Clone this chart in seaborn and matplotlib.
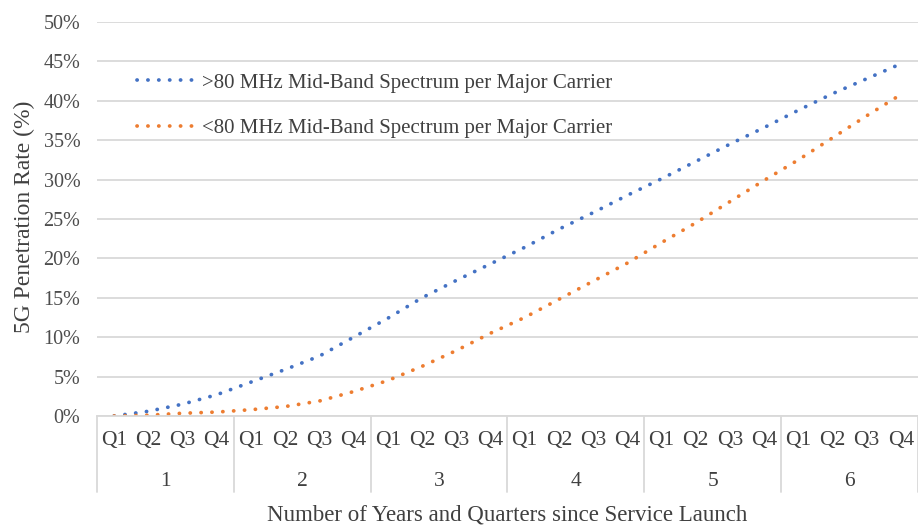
import matplotlib
matplotlib.use("Agg")
import matplotlib.pyplot as plt
import matplotlib.transforms as mtransforms
import seaborn as sns
import pandas as pd

# Quarterly 5G penetration (%) over six years since launch
years = ["1", "2", "3", "4", "5", "6"]
quarters = ["Q1", "Q2", "Q3", "Q4"]
above_80 = [0.0, 0.6, 1.5, 2.7, 4.3, 5.9, 7.6, 10.0, 12.4, 15.0, 17.2, 19.3,
            21.4, 23.7, 25.8, 28.0, 30.1, 32.3, 34.5, 36.6, 38.8, 40.9, 42.8, 44.7]
below_80 = [0.0, 0.1, 0.35, 0.5, 0.8, 1.2, 1.9, 3.1, 4.5, 6.3, 8.3, 10.5,
            12.5, 14.8, 17.1, 19.4, 22.0, 24.5, 27.2, 29.9, 32.5, 35.3, 38.1, 40.8]
series_names = [">80 MHz Mid-Band Spectrum per Major Carrier",
                "<80 MHz Mid-Band Spectrum per Major Carrier"]
y_ticks = [0, 5, 10, 15, 20, 25, 30, 35, 40, 45, 50]

n = len(years) * len(quarters)
df = pd.concat([
    pd.DataFrame({"idx": range(n), "rate": above_80, "series": series_names[0]}),
    pd.DataFrame({"idx": range(n), "rate": below_80, "series": series_names[1]}),
])

sns.set_theme(style="white")
plt.rcParams["font.family"] = ["Liberation Serif", "DejaVu Serif"]
text_color = "#404040"
tick_color = "#4d4d4d"
grid_color = "#D9D9D9"

fig = plt.figure(figsize=(9.18, 5.25), dpi=100)
ax = fig.add_axes([97 / 918, 1 - 416 / 525, 1 - 97 / 918, (416 - 22) / 525])

palette = {series_names[0]: "#4472C4", series_names[1]: "#ED7D31"}
sns.lineplot(data=df, x="idx", y="rate", hue="series", palette=palette,
             style="series", dashes={s: (0.05, 2.85) for s in series_names},
             linewidth=2.7, dash_capstyle="round", ax=ax, legend=False)

ax.set_xlim(-0.5, n - 0.5)
ax.set_ylim(0, 50)
ax.set_yticks(y_ticks)
ax.set_yticklabels([f"{v}%" for v in y_ticks], fontsize=14.5, color=tick_color)
ax.yaxis.grid(True, color=grid_color, linewidth=1.3)
ax.xaxis.grid(False)
for side in ["left", "right", "top"]:
    ax.spines[side].set_visible(False)
ax.spines["bottom"].set_color(grid_color)
ax.spines["bottom"].set_linewidth(1.3)
ax.tick_params(axis="y", length=0, pad=12)
ax.tick_params(axis="x", length=0, pad=11)

ax.set_xticks(range(n))
ax.set_xticklabels(quarters * len(years), fontsize=15.5, color=text_color)

trans = mtransforms.blended_transform_factory(ax.transData, ax.transAxes)
for i, yr in enumerate(years):
    ax.text(i * 4 + 1.5, -0.165, yr, transform=trans, ha="center", va="center",
            fontsize=15.5, color=text_color)
for b in range(len(years) + 1):
    ax.plot([b * 4 - 0.5, b * 4 - 0.5], [0, -0.193], transform=trans,
            color=grid_color, linewidth=1.3, clip_on=False)

ax.set_xlabel("")
ax.text(0.5, -0.251, "Number of Years and Quarters since Service Launch",
        transform=ax.transAxes, ha="center", va="center", fontsize=16.5,
        color=text_color)
ax.set_ylabel("5G Penetration Rate (%)", fontsize=17, color=text_color)
ax.yaxis.set_label_coords(-0.075, 0.505)

handles = ax.get_lines()[:2]
leg = ax.legend(handles, series_names, loc="upper left",
                bbox_to_anchor=((137 - 97) / 821, (416 - 73) / 394),
                frameon=False, fontsize=15, handlelength=2.95,
                handletextpad=0.15, labelspacing=1.25, borderpad=0,
                borderaxespad=0)
for t in leg.get_texts():
    t.set_color(text_color)

fig.savefig("out.png", dpi=100)
